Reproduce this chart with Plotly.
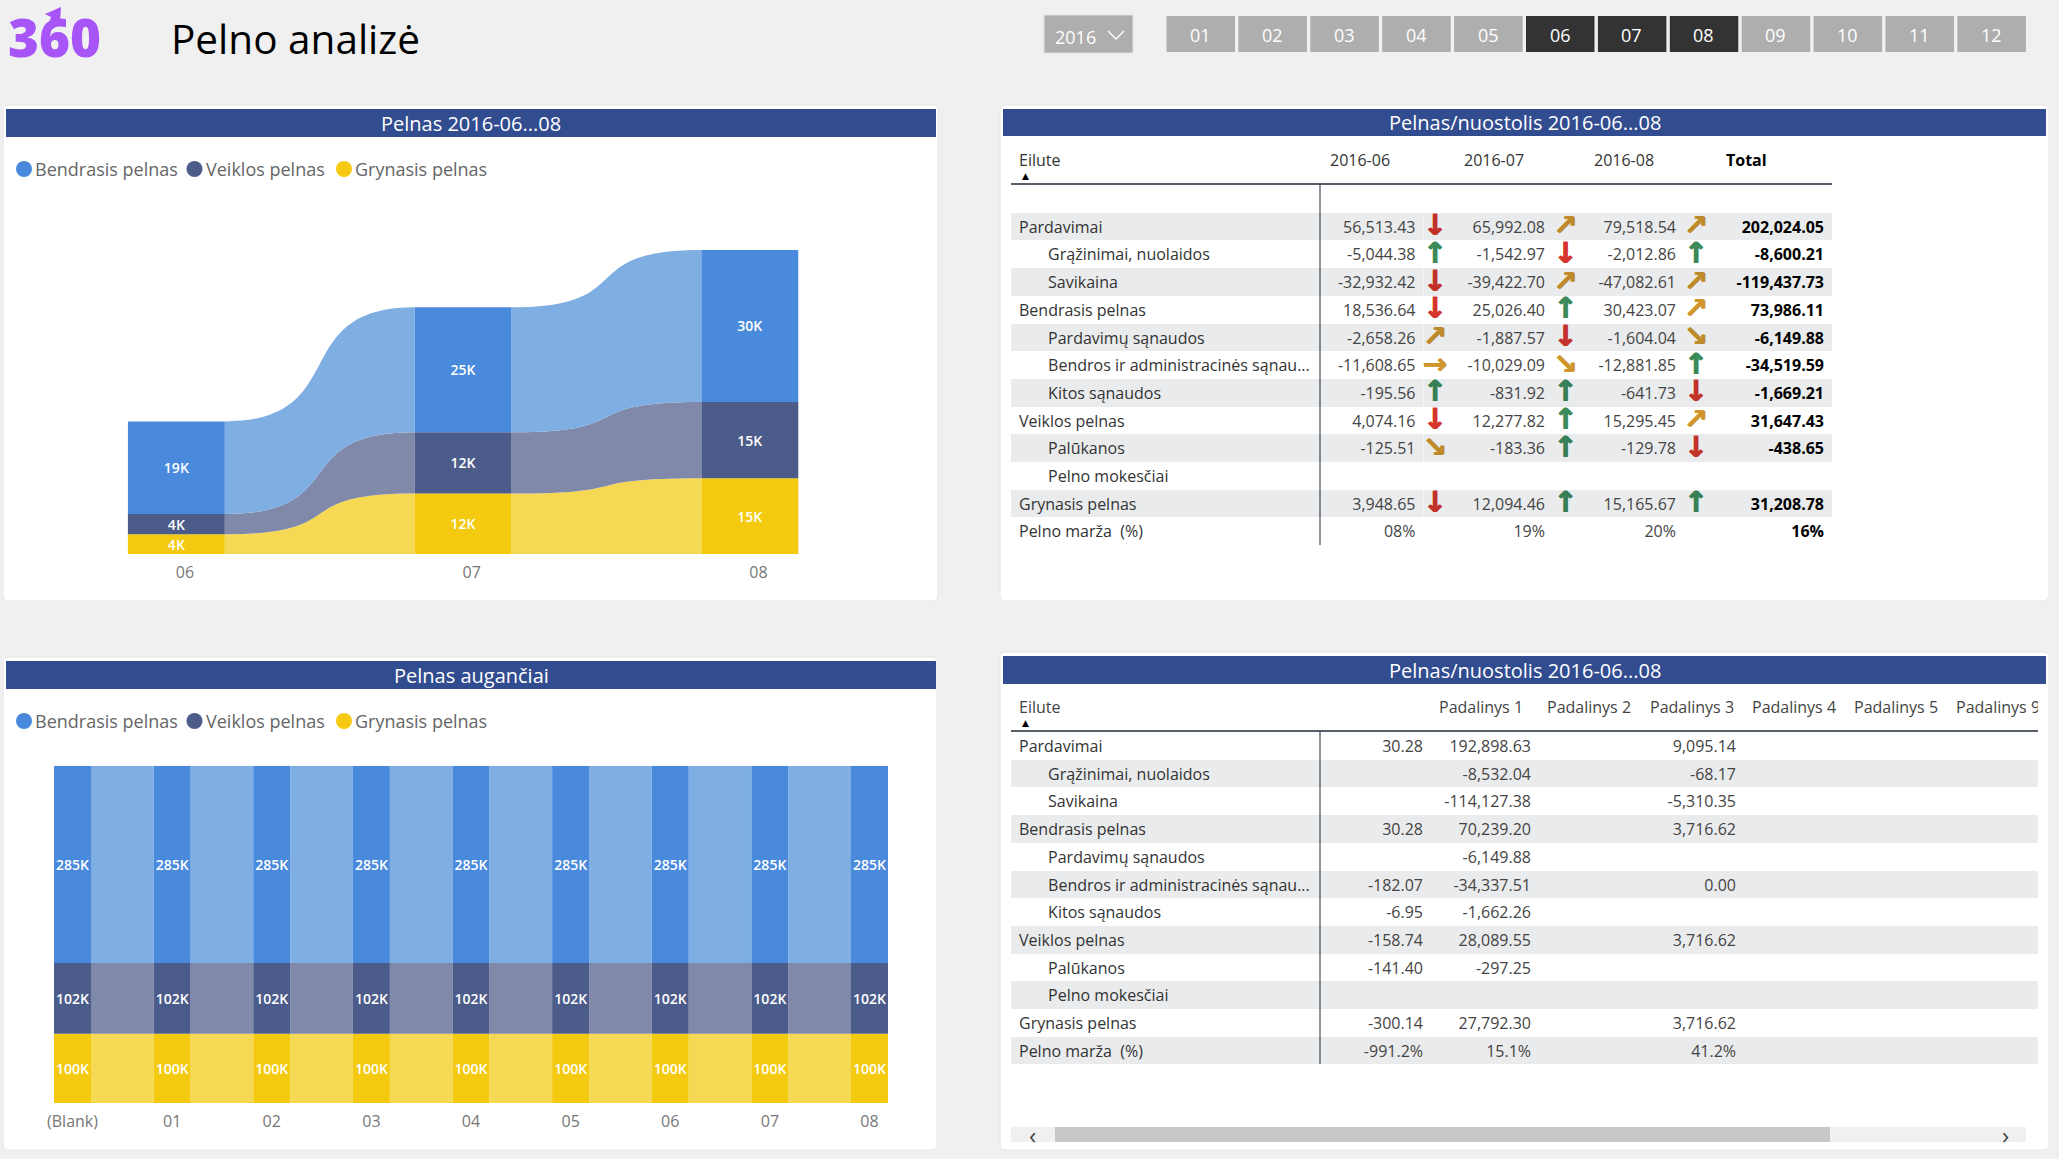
import plotly.graph_objects as go

W, H = 2059, 1159
FONT = "Open Sans"

# ---------- data ----------
ROWS = ["Pardavimai", "Grąžinimai, nuolaidos", "Savikaina", "Bendrasis pelnas", "Pardavimų sąnaudos",
        "Bendros ir administracinės sąnau...", "Kitos sąnaudos", "Veiklos pelnas", "Palūkanos",
        "Pelno mokesčiai", "Grynasis pelnas", "Pelno marža  (%)"]
INDENTED = [False, True, True, False, True, True, True, False, True, True, False, False]

M06 = [56513.43, -5044.38, -32932.42, 18536.64, -2658.26, -11608.65, -195.56, 4074.16, -125.51, None, 3948.65]
M07 = [65992.08, -1542.97, -39422.70, 25026.40, -1887.57, -10029.09, -831.92, 12277.82, -183.36, None, 12094.46]
M08 = [79518.54, -2012.86, -47082.61, 30423.07, -1604.04, -12881.85, -641.73, 15295.45, -129.78, None, 15165.67]
TOTAL = [202024.05, -8600.21, -119437.73, 73986.11, -6149.88, -34519.59, -1669.21, 31647.43, -438.65, None, 31208.78]
MARGIN = ["08%", "19%", "20%", "16%"]
A06 = ["d", "u", "d", "d", "ne", "e", "u", "d", "se", "", "d", ""]
A07 = ["ne", "d", "ne", "u", "d", "se", "u", "u", "u", "", "u", ""]
A08 = ["ne", "u", "ne", "ne", "se", "u", "d", "ne", "d", "", "u", ""]

PAD_BLANK = ["30.28", "", "", "30.28", "", "-182.07", "-6.95", "-158.74", "-141.40", "", "-300.14", "-991.2%"]
PAD_1 = ["192,898.63", "-8,532.04", "-114,127.38", "70,239.20", "-6,149.88", "-34,337.51", "-1,662.26",
         "28,089.55", "-297.25", "", "27,792.30", "15.1%"]
PAD_3 = ["9,095.14", "-68.17", "-5,310.35", "3,716.62", "", "0.00", "", "3,716.62", "", "", "3,716.62", "41.2%"]
PAD_HEAD = ["Eilute", "", "Padalinys 1", "Padalinys 2", "Padalinys 3", "Padalinys 4", "Padalinys 5", "Padalinys 9"]

MONTHS_TOP = ["06", "07", "08"]
MONTHS_YTD = ["(Blank)", "01", "02", "03", "04", "05", "06", "07", "08"]
YTD_GROSS = [285000] * 9
YTD_OPER = [102000] * 9
YTD_NET = [100000] * 9
SERIES = ["Bendrasis pelnas", "Veiklos pelnas", "Grynasis pelnas"]
SLICER = ["01", "02", "03", "04", "05", "06", "07", "08", "09", "10", "11", "12"]
SELECTED = ["06", "07", "08"]

# ---------- style ----------
BG = "#F0F0F0"
HEAD = "#324C90"
C_BAR = ["#4A8ADC", "#4C5C8A", "#F3CA10"]
C_RIB = ["#7FAEE3", "#8089A9", "#F5D954"]
ARROW = {"d": ("↓", "#D5352B"), "u": ("↑", "#3C8A5A"), "ne": ("↗", "#D0952C"),
         "se": ("↘", "#D0952C"), "e": ("→", "#D0952C")}
STRIPE = "rgba(10,20,40,0.085)"
CLEAR = "rgba(0,0,0,0)"
ROW_H = 27.7

px = lambda v: v / W
py = lambda v: 1 - v / H
shapes, ann = [], []


def rect(x0, y0, x1, y1, fill, line=None, layer="below"):
    shapes.append(dict(type="rect", xref="paper", yref="paper", x0=px(x0), x1=px(x1), y0=py(y0), y1=py(y1),
                       fillcolor=fill, line=dict(width=1 if line else 0, color=line or fill), layer=layer))


def label(x, y, s, size=16, color="#333", anchor="left", family=FONT, weight=None):
    font = dict(family=family, size=size, color=color)
    if weight:
        font["weight"] = weight
    ann.append(dict(xref="paper", yref="paper", x=px(x), y=py(y), text=s, showarrow=False, xanchor=anchor,
                    yanchor="middle", font=font))


def card(x0, y0, x1, y1):
    r = 6
    X0, X1, Y0, Y1 = px(x0), px(x1), py(y0), py(y1)
    dx, dy = r / W, r / H
    shapes.append(dict(type="path", xref="paper", yref="paper", layer="below", fillcolor="white",
                       line=dict(color="#E6E6E6", width=1),
                       path=f"M{X0+dx},{Y0} L{X1-dx},{Y0} Q{X1},{Y0} {X1},{Y0-dy} L{X1},{Y1+dy} Q{X1},{Y1} {X1-dx},{Y1} "
                            f"L{X0+dx},{Y1} Q{X0},{Y1} {X0},{Y1+dy} L{X0},{Y0-dy} Q{X0},{Y0} {X0+dx},{Y0} Z"))


def banner(x0, y0, x1, y1, s):
    rect(x0, y0, x1, y1, HEAD)
    label((x0 + x1) / 2, (y0 + y1) / 2 + 0.5, s, size=20, color="white", anchor="center")


def legend(y):
    for name, c, dot, tx in zip(SERIES, C_BAR, [24, 194.5, 344], [33, 204, 353]):
        shapes.append(dict(type="circle", xref="paper", yref="paper", x0=px(dot - 8), x1=px(dot + 8), y0=py(y + 8),
                           y1=py(y - 8), fillcolor=c, line=dict(width=0), layer="below"))
        label(tx, y, name, size=18, color="#666")


fig = go.Figure()

# ---------- page chrome ----------
card(3, 105, 938, 601)
card(1000, 105, 2049, 601)
card(3, 657, 937, 1150)
card(1000, 652, 2049, 1150)
banner(6, 109, 936, 137, "Pelnas 2016-06...08")
banner(1003, 109, 2046, 136, "Pelnas/nuostolis 2016-06...08")
banner(6, 661, 936, 689, "Pelnas augančiai")
banner(1003, 656, 2046, 684, "Pelnas/nuostolis 2016-06...08")
legend(169)
legend(721)
label(169, 38, "Pelno analizė", size=40.5, color="#000")
label(54.5, 36.5, "360", size=53, color="#A855F7", anchor="center", weight=800)
shapes.append(dict(type="path", xref="paper", yref="paper", layer="above", fillcolor="#A855F7", line=dict(width=0),
                   path=f"M{px(61)},{py(7)} L{px(45)},{py(14)} L{px(51)},{py(17)} L{px(47)},{py(29)} L{px(54)},{py(28)} "
                        f"L{px(57)},{py(19)} L{px(60)},{py(22)} Z"))

# slicers
rect(1044, 15, 1133, 53, "#AEAEAE", "#E2E2E2")
label(1053, 37, "2016", size=18, color="white")
shapes.append(dict(type="path", xref="paper", yref="paper", layer="above", line=dict(color="white", width=1.3),
                   path=f"M{px(1108)},{py(31)} L{px(1116)},{py(39)} L{px(1124)},{py(31)}"))
for i, m in enumerate(SLICER):
    x0 = 1166.5 + i * 71.9
    rect(x0, 16, x0 + 68.5, 52, "#333333" if m in SELECTED else "#AEAEAE")
    label(x0 + 34, 35, m, size=18, color="white", anchor="center")


# ---------- ribbon charts ----------
def ribbon_chart(cats, values, ax, bar_w, label_size):
    xa, ya = ("x", "y") if ax == "" else ("x" + ax, "y" + ax)
    xs = list(range(len(cats)))
    base = [0] * len(cats)
    bounds = []
    for s, v, c in zip(SERIES[::-1], values[::-1], C_BAR[::-1]):
        fig.add_trace(go.Bar(x=xs, y=v, base=base, width=bar_w, name=s, marker=dict(color=c, line=dict(width=0)),
                             text=[f"{round(a / 1000)}K" for a in v], textposition="inside", insidetextanchor="middle",
                             textangle=0, constraintext="none",
                             textfont=dict(family=FONT, size=label_size, color="white", weight=600),
                             xaxis=xa, yaxis=ya, showlegend=False))
        top = [b + a for a, b in zip(v, base)]
        bounds.append((list(base), top, C_RIB[SERIES.index(s)]))
        base = top
    hw = bar_w / 2
    for lo, hi, col in bounds:
        for i in range(len(cats) - 1):
            a, b = i + hw, i + 1 - hw
            c1, c2 = a + 0.68 * (b - a), b - 0.68 * (b - a)
            shapes.append(dict(type="path", xref=xa, yref=ya, layer="below", fillcolor=col, line=dict(width=0),
                               path=f"M{a},{lo[i]} L{a},{hi[i]} C{c1},{hi[i]} {c2},{hi[i+1]} {b},{hi[i+1]} "
                                    f"L{b},{lo[i+1]} C{c2},{lo[i+1]} {c1},{lo[i]} {a},{lo[i]} Z"))
    return xs


TOP_VALUES = [[M06[3], M07[3], M08[3]], [M06[7], M07[7], M08[7]], [M06[10], M07[10], M08[10]]]
YTD_VALUES = [YTD_GROSS, YTD_OPER, YTD_NET]
xs1 = ribbon_chart(MONTHS_TOP, TOP_VALUES, "", 0.338, 14)
xs2 = ribbon_chart(MONTHS_YTD, YTD_VALUES, "2", 0.3715, 14)

tick_font = dict(family=FONT, size=16, color="#777")
axis_off = dict(showgrid=False, zeroline=False, showline=False, ticks="")
layout_axes = dict(
    xaxis=dict(domain=[px(33), px(893.2)], range=[-0.5, 2.5], tickmode="array",
               tickvals=[x + 0.03 for x in xs1], ticktext=MONTHS_TOP, tickfont=tick_font, ticklabelstandoff=7, **axis_off),
    yaxis=dict(domain=[py(554), py(250)], range=[0, sum(v[2] for v in TOP_VALUES)], showticklabels=False, **axis_off),
    xaxis2=dict(domain=[px(22.7), px(919.3)], range=[-0.5, 8.5], tickmode="array", tickvals=xs2,
                ticktext=MONTHS_YTD, tickfont=tick_font, ticklabelstandoff=7, anchor="y2", **axis_off),
    yaxis2=dict(domain=[py(1103), py(765.7)], range=[0, YTD_GROSS[0] + YTD_OPER[0] + YTD_NET[0]],
                showticklabels=False, anchor="x2", **axis_off),
    xaxis3=dict(domain=[px(1369.75), px(1761.25)], range=[-0.5, 2.5], visible=False, anchor="y3"),
    yaxis3=dict(domain=[py(214.15 + 12 * ROW_H), py(214.15)], range=[11.5, -0.5], visible=False, anchor="x3"),
)

# trend arrows beside the monthly values, on their own column/row axes
for col, codes in enumerate([A06, A07, A08]):
    rows = [i for i, c in enumerate(codes) if c]
    colours = [ARROW[codes[i]][1] for i in rows]
    fig.add_trace(go.Scatter(x=[col] * len(rows), y=rows, mode="text", text=[ARROW[codes[i]][0] for i in rows],
                             textposition="middle center",
                             textfont=dict(family="DejaVu Sans", size=29, weight=700, color=colours,
                                           shadow=[f"0.7px 0 0 {c}, -0.7px 0 0 {c}" for c in colours]),
                             xaxis="x3", yaxis="y3", showlegend=False, cliponaxis=False))


# ---------- tables ----------
nb = lambda s: s.replace(" ", "\u00a0")


def names():
    return [("\u00a0" * 7 + nb(r)) if ind else r for r, ind in zip(ROWS, INDENTED)]


def fmt(vals, last):
    return [f"{v:,.2f}" if v is not None else "" for v in vals] + [last]


NUM = "#444"
stripe1 = [CLEAR] + [STRIPE if i % 2 == 0 else CLEAR for i in range(12)]
gap = [""] * 13
cols1 = [[""] + names(), [""] + fmt(M06, MARGIN[0]), gap, [""] + fmt(M07, MARGIN[1]), gap,
         [""] + fmt(M08, MARGIN[2]), gap, [""] + fmt(TOTAL, MARGIN[3])]
edges1 = [1011, 1322, 1423.5, 1456, 1553, 1586, 1684, 1718, 1832]
w1 = [b - a for a, b in zip(edges1, edges1[1:])]
fig.add_trace(go.Table(
    domain=dict(x=[px(1011), px(1832)], y=[py(585), py(146)]),
    columnwidth=w1,
    header=dict(values=["Eilute", "2016-06", "", "2016-07", "", "2016-08", "", "Total"],
                align="left", height=39, fill=dict(color=CLEAR), line=dict(width=0),
                font=dict(family=FONT, size=16, color=["#333"] * 7 + ["#000"], weight=[400] * 7 + [700])),
    cells=dict(values=cols1, align=["left", "right", "right", "right", "right", "right", "right", "right"],
               height=ROW_H, fill=dict(color=[stripe1] * 8), line=dict(width=0),
               font=dict(family=FONT, size=16, color=["#333"] + [NUM] * 6 + ["#000"], weight=[400] * 7 + [700]))))

stripe2 = [STRIPE if i % 2 == 1 else CLEAR for i in range(12)]
blank = [""] * 12
edges2 = [1011, 1320, 1431, 1539, 1642, 1744, 1846, 1948, 2038]
w2 = [b - a for a, b in zip(edges2, edges2[1:])]
fig.add_trace(go.Table(
    domain=dict(x=[px(1011), px(2038)], y=[py(1100), py(693)]),
    columnwidth=w2,
    header=dict(values=[nb(h) for h in PAD_HEAD], align="left", height=39, fill=dict(color=CLEAR), line=dict(width=0),
                font=dict(family=FONT, size=16, color="#444")),
    cells=dict(values=[names(), PAD_BLANK, PAD_1, blank, PAD_3, blank, blank, blank],
               align=["left"] + ["right"] * 7, height=ROW_H, fill=dict(color=[stripe2] * 8), line=dict(width=0),
               font=dict(family=FONT, size=16, color=["#333"] + [NUM] * 7))))

# table rules sit under the translucent cells
for (x0, x1, yh, yb) in [(1011, 1832, 184, 545), (1011, 2038, 731, 1064)]:
    rect(x0, yh - 0.75, x1, yh + 0.75, "#1F2A3A")
    rect(1320 - 0.5, yh, 1320 + 0.5, yb, "#1F2A3A")
label(1025, 176, "▲", size=9, color="#000", anchor="center", family="DejaVu Sans")
label(1025, 723, "▲", size=9, color="#000", anchor="center", family="DejaVu Sans")

# horizontal scrollbar of the lower table
rect(1011, 1127, 2026, 1142, "#F0F0F0")
rect(1055, 1127, 1830, 1142, "#C8C8C8")
label(1032, 1134, "‹", size=24, color="#444", anchor="center")
label(2005, 1134, "›", size=24, color="#444", anchor="center")

fig.update_layout(width=W, height=H, autosize=False, margin=dict(l=0, r=0, t=0, b=0), paper_bgcolor=BG,
                  plot_bgcolor=CLEAR, showlegend=False, barmode="overlay", shapes=shapes, annotations=ann,
                  font=dict(family=FONT), **layout_axes)
fig.write_html("out.html", config={"displayModeBar": False},
               post_script="document.body.style.margin='0';document.body.style.overflow='hidden';")
